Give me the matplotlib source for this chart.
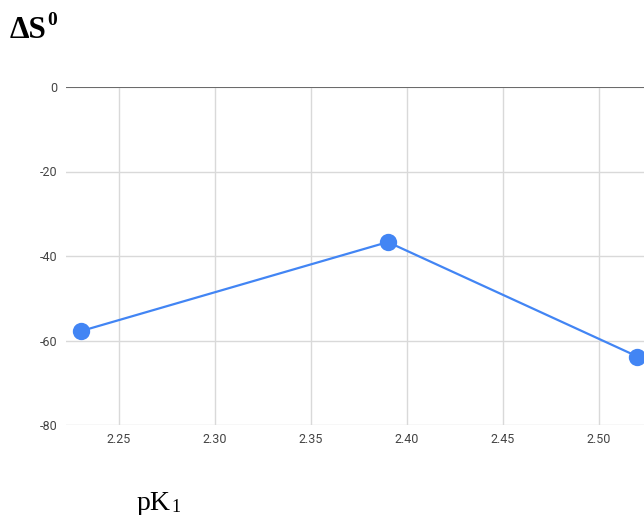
import matplotlib
matplotlib.use("Agg")
import matplotlib.pyplot as plt

pk1 = [2.23, 2.39, 2.52]
delta_s = [-57.8, -36.7, -63.8]
x_ticks = [2.25, 2.30, 2.35, 2.40, 2.45, 2.50]
y_ticks = [-80, -60, -40, -20, 0]

fig = plt.figure(figsize=(6.44, 5.15), dpi=100)
ax = fig.add_axes([66 / 644, 1 - 425 / 515, 1 - 66 / 644, (425 - 87) / 515])

ax.plot(pk1, delta_s, color="#4285F4", linewidth=1.6, marker="o",
        markersize=12.5, markeredgewidth=0, clip_on=False, zorder=3)

ax.set_xlim(2.2224, 2.5234)
ax.set_ylim(-80, 0)
ax.set_xticks(x_ticks)
ax.set_xticklabels(["%.2f" % v for v in x_ticks])
ax.set_yticks(y_ticks)
ax.set_yticklabels([str(v) for v in y_ticks])

ax.grid(True, color="#d9d9d9", linewidth=1)
ax.axhline(0, color="#555555", linewidth=1.2, zorder=2)
for s in ax.spines.values():
    s.set_visible(False)
ax.tick_params(length=0, labelsize=9, labelcolor="#444444", pad=6)
for lbl in ax.get_xticklabels() + ax.get_yticklabels():
    lbl.set_family("Roboto")

# title: Delta S with superscript 0
fig.text(10 / 644, 1 - 38 / 515, "ΔS", family="Liberation Serif", weight="bold",
         fontsize=22.5, va="baseline", ha="left")
fig.text(47 / 644, 1 - 25 / 515, "0", family="Liberation Serif", weight="bold",
         fontsize=14, va="baseline", ha="left")

# x axis label: pK with subscript 1
fig.text(137 / 644, 1 - 510 / 515, "pK", family="Liberation Serif",
         fontsize=20, va="baseline", ha="left")
fig.text(171 / 644, 1 - 512 / 515, "1", family="Liberation Serif",
         fontsize=13, va="baseline", ha="left")

fig.savefig("out.png", dpi=100)
